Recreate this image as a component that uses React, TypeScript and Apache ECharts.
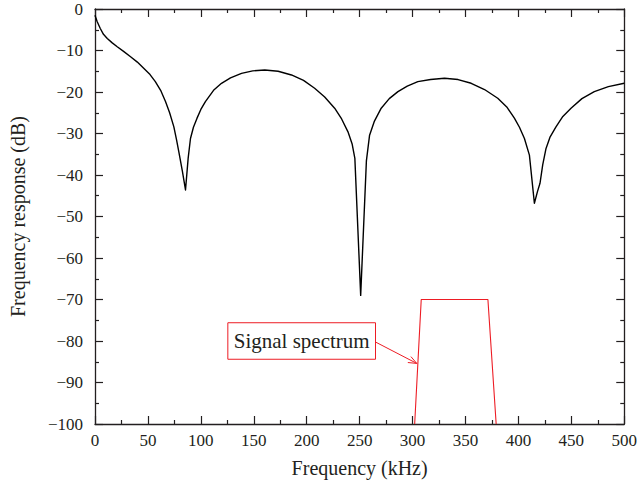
import React, { useEffect, useRef } from "react";
import * as echarts from "echarts";

// Frequency response curve (kHz, dB)
const freqs = [0, 2, 5, 8, 11.6, 16, 21, 27, 33.6, 40, 46, 52, 57, 62, 66.6, 70.5, 74.5, 77, 79.2, 82.5, 85.5, 88, 90.2, 93, 96.4, 100, 104.3, 112, 119.5, 128, 138.4, 149, 160.4, 173, 185.6, 197, 207.5, 217, 226.4, 233, 239, 243, 245.5, 251, 256.4, 259.4, 264, 270.4, 278, 286.2, 295, 305, 317, 330.2, 343, 355.4, 368, 380.5, 389, 396.2, 401, 405.7, 410.4, 415.1, 418, 420.4, 423, 426.1, 430, 435.5, 442, 449.7, 460, 471.7, 485, 500];
const response = [-1.5, -3.0, -4.7, -6.1, -7.1, -8.1, -9.1, -10.2, -11.5, -12.8, -14.3, -15.8, -17.5, -19.6, -22.3, -25, -28.4, -31.5, -34.4, -39, -43.6, -36, -31.2, -28.5, -26.3, -24.2, -22.3, -19.6, -17.9, -16.6, -15.5, -14.9, -14.7, -15, -15.9, -17.2, -19.1, -21.2, -23.9, -26.5, -29.6, -32.6, -36, -69, -36.6, -30.4, -27, -23.9, -21.6, -19.9, -18.6, -17.5, -17, -16.7, -17, -17.9, -19.4, -21.5, -23.6, -26.3, -28.5, -31.2, -35.2, -46.8, -44, -42, -37.5, -33.6, -30.8, -28.4, -25.9, -23.9, -21.6, -19.9, -18.7, -17.9];

// Signal spectrum trapezoid
const specFreqs = [302, 308.2, 371.2, 379];
const specLevels = [-100, -70, -70, -100];

// Axis ticks
const xTicks = { min: 0, max: 500, interval: 50 };
const yTicks = { min: -100, max: 0, interval: 10 };

// Annotation (data coordinates)
const annoText = "Signal spectrum";
const annoBox = { x0: 125.5, x1: 265, y0: -75.6, y1: -84.4 };
const arrowFrom = [265.4, -80.3];
const arrowTo = [304, -85.4];

const FONT = "'Liberation Serif', 'DejaVu Serif', serif";
const INK = "#231f20";
const RED = "#ed1c24";

export default function App() {
  const ref = useRef<HTMLDivElement>(null);
  useEffect(() => {
    document.body.style.margin = "0";
    const chart = echarts.init(ref.current!, null, { renderer: "svg" });
    const axisCommon = {
      type: "value" as const,
      axisLine: { show: true, onZero: false, lineStyle: { color: INK, width: 1.3 } },
      axisTick: { show: true, inside: true, length: 8, lineStyle: { color: INK, width: 1.2 } },
      minorTick: { show: true, splitNumber: 2, length: 4, lineStyle: { color: INK, width: 1.2 } },
      splitLine: { show: false },
    };
    const labelCommon = { fontFamily: FONT, fontSize: 17, color: INK };
    chart.setOption({
      animation: false,
      backgroundColor: "#ffffff",
      grid: { left: 95, right: 15, top: 9, bottom: 64 },
      xAxis: [
        {
          ...axisCommon,
          position: "bottom",
          min: xTicks.min, max: xTicks.max, interval: xTicks.interval,
          axisLabel: { ...labelCommon, margin: 8 },
          name: "Frequency (kHz)",
          nameLocation: "middle",
          nameGap: 34,
          nameTextStyle: { fontFamily: FONT, fontSize: 20, color: INK },
        },
        {
          ...axisCommon,
          position: "top",
          min: xTicks.min, max: xTicks.max, interval: xTicks.interval,
          axisLabel: { show: false },
        },
      ],
      yAxis: [
        {
          ...axisCommon,
          position: "left",
          min: yTicks.min, max: yTicks.max, interval: yTicks.interval,
          axisLabel: {
            ...labelCommon,
            margin: 12,
            formatter: (v: number) => (v < 0 ? "\u2212" + String(-v) : String(v)),
          },
          name: "Frequency response (dB)",
          nameLocation: "middle",
          nameGap: 67,
          nameTextStyle: { fontFamily: FONT, fontSize: 20, color: INK },
        },
        {
          ...axisCommon,
          position: "right",
          min: yTicks.min, max: yTicks.max, interval: yTicks.interval,
          axisLabel: { show: false },
        },
      ],
      series: [
        {
          type: "line",
          data: freqs.map((f, i) => [f, response[i]]),
          showSymbol: false,
          symbol: "none",
          lineStyle: { color: "#000000", width: 1.4, join: "round" },
          smooth: false,
        },
        {
          type: "line",
          data: specFreqs.map((f, i) => [f, specLevels[i]]),
          showSymbol: false,
          symbol: "none",
          lineStyle: { color: RED, width: 1.1 },
        },
      ],
    });

    const p0 = chart.convertToPixel({ gridIndex: 0 }, [annoBox.x0, annoBox.y0]) as number[];
    const p1 = chart.convertToPixel({ gridIndex: 0 }, [annoBox.x1, annoBox.y1]) as number[];
    const a0 = chart.convertToPixel({ gridIndex: 0 }, arrowFrom) as number[];
    const a1 = chart.convertToPixel({ gridIndex: 0 }, arrowTo) as number[];
    const ang = Math.atan2(a1[1] - a0[1], a1[0] - a0[0]);
    const hl = 9, spread = 0.38;
    const h1 = [a1[0] - hl * Math.cos(ang - spread), a1[1] - hl * Math.sin(ang - spread)];
    const h2 = [a1[0] - hl * Math.cos(ang + spread), a1[1] - hl * Math.sin(ang + spread)];
    chart.setOption({
      graphic: [
        {
          type: "rect",
          shape: { x: p0[0], y: p0[1], width: p1[0] - p0[0], height: p1[1] - p0[1] },
          style: { fill: "#ffffff", stroke: RED, lineWidth: 1 },
          z: 10,
        },
        {
          type: "text",
          x: (p0[0] + p1[0]) / 2,
          y: (p0[1] + p1[1]) / 2,
          style: { text: annoText, fontFamily: FONT, fontSize: 21, fill: INK, align: "center", verticalAlign: "middle" },
          z: 11,
        },
        {
          type: "line",
          shape: { x1: a0[0], y1: a0[1], x2: a1[0], y2: a1[1] },
          style: { stroke: RED, lineWidth: 1 },
          z: 10,
        },
        {
          type: "polyline",
          shape: { points: [h1, a1, h2] },
          style: { stroke: RED, lineWidth: 1, fill: "none" },
          z: 10,
        },
      ],
    });
    return () => chart.dispose();
  }, []);
  return <div ref={ref} style={{ width: 640, height: 488 }} />;
}
